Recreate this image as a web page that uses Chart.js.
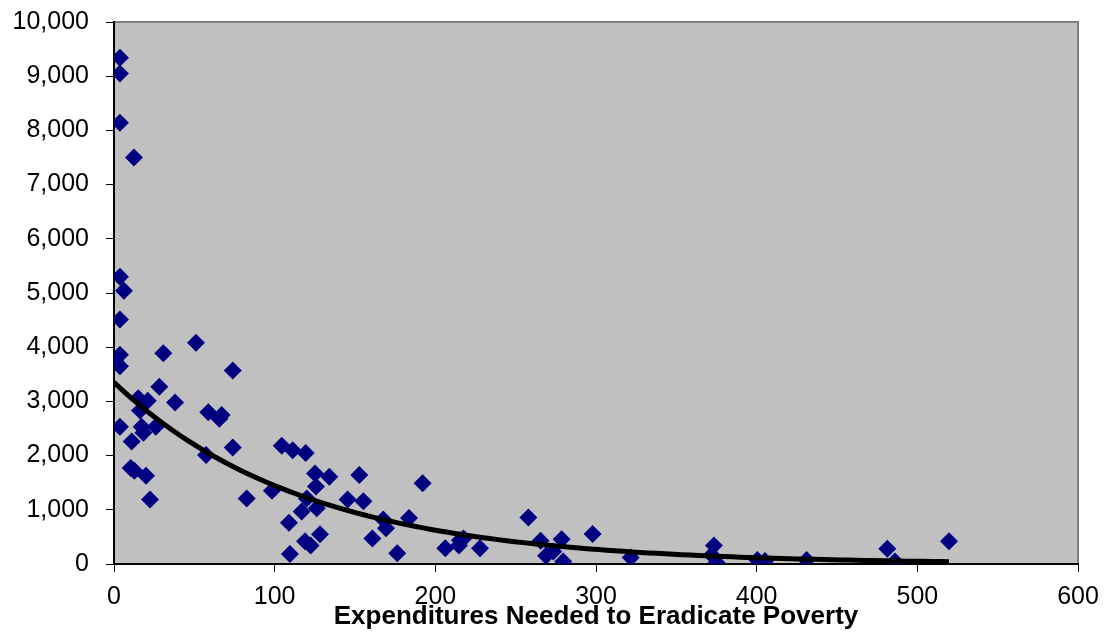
<!DOCTYPE html>
<html>
<head>
<meta charset="utf-8">
<script src="https://cdn.jsdelivr.net/npm/chart.js@4.4.1/dist/chart.umd.min.js"></script>
<style>
    html, body { margin: 0; padding: 0; background: #fff; }
    #wrap { width: 1106px; height: 637px; }
</style>
</head>
<body>
<div id="wrap"><canvas id="chart" width="1106" height="637"></canvas></div>
<script>
// valores
const expenditures = [
    3.7, 3.7, 3.7, 12.4, 3.7, 6.2, 3.7, 3.7, 0.6, 3.7,
    30.7, 51, 73.9, 28.2, 15.1, 21, 38, 16.2, 58.7, 67,
    65.6, 3.7, 17.2, 26, 18.3, 11, 73.9, 57.3, 104.4, 111.2,
    119.3, 10.4, 12.7, 19.9, 125.1, 134, 152.7, 125.7, 22.4, 82.6,
    98.3, 120, 145.4, 155.2, 126.2, 116.8, 167.6, 169.3, 108.9, 128.2,
    118.9, 122.4, 160.8, 109.5, 176.3, 183.6, 192.1, 206.2, 215.3, 214.7,
    217.5, 227.8, 257.9, 265.5, 268.9, 273.4, 278.6, 279.6, 297.9, 321.6,
    373.4, 372, 375.1, 400.4, 405.2, 431.1, 481.3, 486.1, 519.7
];
const values = [
    9340, 9050, 8140, 7500, 5300, 5040, 4510, 3860, 3750, 3650,
    3890, 4080, 3570, 3270, 3060, 3010, 2980, 2830, 2800, 2750,
    2680, 2530, 2530, 2530, 2420, 2260, 2150, 2010, 2180, 2100,
    2050, 1770, 1720, 1630, 1670, 1610, 1640, 1430, 1190, 1210,
    1350, 1210, 1190, 1160, 1030, 970, 820, 660, 760, 550,
    420, 340, 470, 185, 200, 850, 1490, 290, 440, 340,
    470, 290, 860, 430, 150, 230, 455, 45, 555, 120,
    340, 165, 25, 75, 55, 75, 280, 45, 420
];

// linha de tendência exponencial (parâmetros)
const trendA = 3350;
const trendB = -0.0084;
const trendStart = 0;
const trendEnd = 519.7;

const xTicks = [0, 100, 200, 300, 400, 500, 600];
const yTicks = [0, 1000, 2000, 3000, 4000, 5000, 6000, 7000, 8000, 9000, 10000];

const points = expenditures.map((x, i) => ({ x: x, y: values[i] }));

const trendPoints = [];
for (let i = 0; i <= 100; i++) {
    const x = trendStart + (trendEnd - trendStart) * i / 100;
    trendPoints.push({ x: x, y: trendA * Math.exp(trendB * x) });
}

const plotArea = {
    id: 'plotArea',
    beforeDraw(chart) {
        const { ctx, chartArea: a } = chart;
        ctx.save();
        ctx.fillStyle = '#c0c0c0';
        ctx.fillRect(a.left, a.top, a.right - a.left, a.bottom - a.top);
        ctx.strokeStyle = '#808080';
        ctx.lineWidth = 2;
        ctx.beginPath();
        ctx.moveTo(a.left, a.top);
        ctx.lineTo(a.right, a.top);
        ctx.lineTo(a.right, a.bottom);
        ctx.stroke();
        ctx.restore();
    }
};

const tickFont = { family: "'Liberation Sans', Arial, sans-serif", size: 25 };

const ctx = document.getElementById('chart').getContext('2d');
new Chart(ctx, {
    type: 'scatter',
    data: {
        datasets: [{
            type: 'line',
            data: trendPoints,
            borderColor: '#000',
            borderWidth: 5,
            pointRadius: 0,
            fill: false,
            tension: 0
        }, {
            data: points,
            pointStyle: 'rectRot',
            pointRadius: 9,
            pointHoverRadius: 9,
            backgroundColor: '#000080',
            borderColor: '#000080',
            borderWidth: 0
        }]
    },
    options: {
        responsive: false,
        animation: false,
        devicePixelRatio: 1,
        layout: { padding: { left: 0, top: 22, right: 28, bottom: 0 } },
        plugins: {
            legend: { display: false },
            tooltip: { enabled: false }
        },
        scales: {
            x: {
                type: 'linear',
                min: 0,
                max: 600,
                afterBuildTicks: function(scale) {
                    scale.ticks = xTicks.map(v => ({ value: v }));
                },
                afterFit: function(scale) {
                    scale.height = 73;
                    scale.paddingLeft = 0;
                    scale.paddingRight = 0;
                },
                ticks: { font: tickFont, color: '#000', padding: 10, maxRotation: 0 },
                grid: { drawOnChartArea: false, tickLength: 8, color: '#000', tickWidth: 1 },
                border: { color: '#000', width: 2 },
                title: {
                    display: true,
                    text: 'Expenditures Needed to Eradicate Poverty',
                    color: '#000',
                    font: { family: "'Liberation Sans', Arial, sans-serif", size: 26, weight: 'bold' },
                    padding: { top: 0, bottom: 5 }
                }
            },
            y: {
                min: 0,
                max: 10000,
                afterBuildTicks: function(scale) {
                    scale.ticks = yTicks.map(v => ({ value: v }));
                },
                afterFit: function(scale) {
                    scale.width = 114;
                    scale.paddingTop = 0;
                    scale.paddingBottom = 0;
                },
                ticks: {
                    font: tickFont,
                    color: '#000',
                    padding: 17,
                    callback: v => v.toLocaleString('en-US')
                },
                grid: { drawOnChartArea: false, tickLength: 8, color: '#000', tickWidth: 1 },
                border: { color: '#000', width: 2 }
            }
        }
    },
    plugins: [plotArea]
});
</script>
</body>
</html>
